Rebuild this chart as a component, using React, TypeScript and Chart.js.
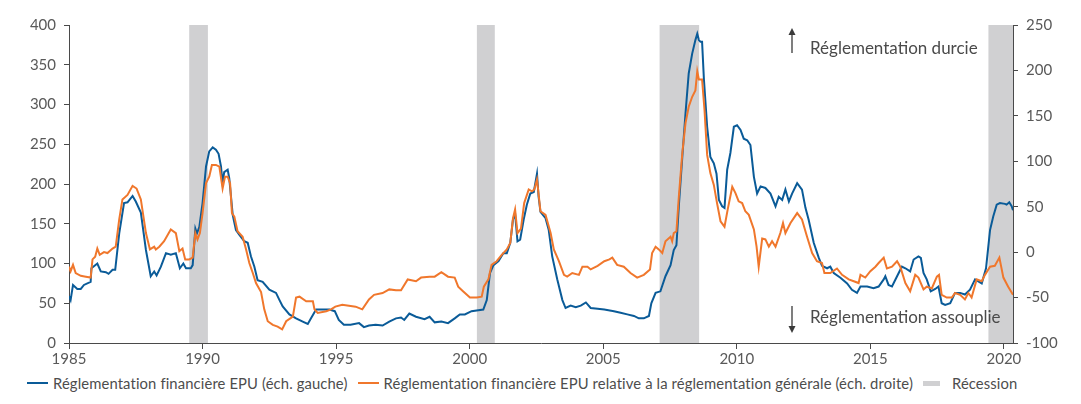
import React, { useEffect, useRef } from "react";
import { Chart, registerables } from "chart.js";
Chart.register(...registerables);

// ---- Data ----
const xTickYears = [1985, 1990, 1995, 2000, 2005, 2010, 2015, 2020];
const leftTicks = [0, 400, 50];
const rightTicks = [-100, 250, 50];

const recessionStarts = [1989.5, 2000.27, 2007.11, 2019.42];
const recessionEnds = [1990.2, 2000.94, 2008.59, 2020.34];

const blueYears = [
  1985.0, 1985.06, 1985.15, 1985.31, 1985.44, 1985.56, 1985.81, 1985.84, 1986.06, 1986.19,
  1986.38, 1986.48, 1986.63, 1986.73, 1986.88, 1987.06, 1987.19, 1987.38, 1987.5, 1987.69,
  1987.88, 1988.06, 1988.19, 1988.28, 1988.44, 1988.63, 1988.81, 1989.0, 1989.15, 1989.28,
  1989.38, 1989.56, 1989.63, 1989.73, 1989.79, 1989.88, 1990.0, 1990.13, 1990.25, 1990.38,
  1990.5, 1990.6, 1990.69, 1990.75, 1990.81, 1990.94, 1991.0, 1991.13, 1991.25, 1991.38,
  1991.56, 1991.69, 1991.81, 1991.94, 1992.06, 1992.25, 1992.5, 1992.75, 1992.88, 1993.0,
  1993.25, 1993.5, 1993.75, 1993.94, 1994.06, 1994.25, 1994.5, 1994.75, 1994.95, 1995.1,
  1995.29, 1995.54, 1995.86, 1996.04, 1996.23, 1996.48, 1996.74, 1996.99, 1997.24, 1997.43,
  1997.55, 1997.74, 1997.99, 1998.31, 1998.5, 1998.69, 1998.94, 1999.19, 1999.44, 1999.63,
  1999.82, 2000.07, 2000.26, 2000.51, 2000.64, 2000.76, 2000.89, 2001.08, 2001.26, 2001.39,
  2001.52, 2001.62, 2001.7, 2001.79, 2001.89, 2002.02, 2002.14, 2002.27, 2002.4, 2002.52,
  2002.58, 2002.65, 2002.84, 2002.96, 2003.09, 2003.28, 2003.47, 2003.59, 2003.78, 2003.97,
  2004.16, 2004.35, 2004.53, 2004.79, 2005.04, 2005.4, 2005.65, 2005.9, 2006.15, 2006.33,
  2006.52, 2006.71, 2006.8, 2006.96, 2007.14, 2007.33, 2007.52, 2007.64, 2007.74, 2007.83,
  2007.96, 2008.08, 2008.2, 2008.33, 2008.45, 2008.52, 2008.58, 2008.64, 2008.7, 2008.77,
  2008.89, 2009.01, 2009.14, 2009.24, 2009.33, 2009.45, 2009.54, 2009.64, 2009.76, 2009.89,
  2010.01, 2010.14, 2010.26, 2010.39, 2010.51, 2010.64, 2010.76, 2010.89, 2011.07, 2011.26,
  2011.45, 2011.57, 2011.7, 2011.82, 2011.95, 2012.07, 2012.26, 2012.44, 2012.57, 2012.69,
  2012.88, 2013.07, 2013.19, 2013.38, 2013.5, 2013.63, 2013.88, 2014.13, 2014.31, 2014.5,
  2014.63, 2014.88, 2015.12, 2015.31, 2015.5, 2015.56, 2015.68, 2015.81, 2016.0, 2016.18,
  2016.31, 2016.49, 2016.62, 2016.8, 2016.89, 2016.99, 2017.11, 2017.26, 2017.43, 2017.55,
  2017.67, 2017.8, 2017.99, 2018.17, 2018.36, 2018.54, 2018.73, 2018.92, 2019.17, 2019.33,
  2019.48, 2019.6, 2019.73, 2019.85, 2020.04, 2020.1, 2020.2, 2020.29, 2020.34,
];
const blueValues = [
  59, 54, 73, 68, 68, 73, 77, 94, 100, 90,
  89, 87, 92, 92, 138, 176, 177, 185, 178, 164,
  117, 84, 90, 85, 96, 113, 111, 113, 94, 100,
  94, 94, 98, 144, 138, 146, 176, 222, 241, 246,
  243, 238, 222, 201, 215, 218, 207, 161, 142, 136,
  128, 126, 109, 96, 79, 77, 67, 63, 54, 46,
  36, 31, 27, 24, 31, 42, 42, 42, 40, 29,
  23, 23, 25, 20, 22, 23, 22, 27, 31, 32,
  29, 37, 33, 30, 33, 26, 27, 25, 31, 36,
  36, 40, 41, 42, 54, 88, 98, 103, 113, 113,
  126, 155, 163, 128, 130, 155, 174, 188, 190, 213,
  184, 165, 157, 142, 109, 80, 54, 44, 47, 45,
  47, 51, 44, 43, 42, 40, 38, 36, 34, 31,
  31, 34, 50, 63, 65, 84, 98, 117, 123, 172,
  234, 289, 339, 364, 381, 389, 381, 379, 379, 331,
  272, 234, 226, 213, 180, 172, 170, 218, 239, 272,
  274, 268, 257, 255, 249, 209, 188, 197, 195, 188,
  172, 184, 180, 193, 178, 188, 201, 193, 170, 155,
  126, 107, 97, 94, 96, 88, 82, 75, 67, 63,
  71, 71, 69, 71, 80, 84, 73, 71, 84, 96,
  94, 90, 105, 109, 107, 88, 80, 65, 68, 71,
  50, 48, 50, 63, 63, 61, 67, 80, 75, 94,
  142, 159, 174, 176, 175, 174, 177, 172, 167,
];

const orangeYears = [
  1985.0, 1985.06, 1985.15, 1985.25, 1985.44, 1985.63, 1985.81, 1985.88, 1985.98, 1986.06,
  1986.15, 1986.31, 1986.44, 1986.63, 1986.75, 1986.88, 1987.0, 1987.19, 1987.38, 1987.53,
  1987.69, 1987.88, 1988.03, 1988.19, 1988.25, 1988.38, 1988.56, 1988.81, 1989.0, 1989.13,
  1989.25, 1989.35, 1989.5, 1989.63, 1989.73, 1989.81, 1989.9, 1990.0, 1990.13, 1990.25,
  1990.35, 1990.5, 1990.63, 1990.75, 1990.84, 1990.94, 1991.03, 1991.1, 1991.19, 1991.31,
  1991.5, 1991.63, 1991.75, 1991.88, 1992.0, 1992.19, 1992.31, 1992.44, 1992.63, 1992.81,
  1992.98, 1993.13, 1993.38, 1993.5, 1993.63, 1993.88, 1994.13, 1994.19, 1994.31, 1994.63,
  1994.81, 1994.97, 1995.23, 1995.48, 1995.73, 1995.98, 1996.23, 1996.42, 1996.74, 1996.99,
  1997.24, 1997.43, 1997.68, 1997.99, 1998.18, 1998.5, 1998.69, 1998.94, 1999.19, 1999.44,
  1999.57, 1999.75, 2000.01, 2000.26, 2000.45, 2000.53, 2000.7, 2000.82, 2001.01, 2001.2,
  2001.39, 2001.52, 2001.62, 2001.7, 2001.79, 2001.92, 2002.04, 2002.21, 2002.33, 2002.42,
  2002.52, 2002.65, 2002.84, 2003.03, 2003.15, 2003.34, 2003.53, 2003.65, 2003.84, 2004.09,
  2004.22, 2004.41, 2004.53, 2004.79, 2005.04, 2005.23, 2005.34, 2005.52, 2005.77, 2006.02,
  2006.27, 2006.52, 2006.75, 2006.83, 2006.96, 2007.08, 2007.21, 2007.33, 2007.52, 2007.58,
  2007.64, 2007.74, 2007.83, 2007.96, 2008.08, 2008.2, 2008.33, 2008.45, 2008.52, 2008.58,
  2008.7, 2008.79, 2008.89, 2009.01, 2009.14, 2009.26, 2009.39, 2009.54, 2009.66, 2009.83,
  2009.95, 2010.07, 2010.2, 2010.32, 2010.45, 2010.64, 2010.74, 2010.82, 2010.95, 2011.07,
  2011.2, 2011.32, 2011.45, 2011.63, 2011.73, 2011.82, 2012.01, 2012.26, 2012.44, 2012.63,
  2012.82, 2013.0, 2013.19, 2013.28, 2013.5, 2013.75, 2013.94, 2014.19, 2014.38, 2014.56,
  2014.63, 2014.81, 2015.0, 2015.19, 2015.31, 2015.5, 2015.62, 2015.81, 2016.0, 2016.12,
  2016.31, 2016.49, 2016.68, 2016.8, 2016.99, 2017.11, 2017.3, 2017.49, 2017.57, 2017.67,
  2017.86, 2018.05, 2018.17, 2018.36, 2018.54, 2018.67, 2018.79, 2018.98, 2019.17, 2019.29,
  2019.48, 2019.66, 2019.83, 2019.98, 2020.16, 2020.34,
];
const orangeValues = [
  -16, -21, -14, -23, -26, -27, -28, -8, -5, 4,
  -3, 0, -1, 4, 6, 36, 58, 63, 73, 70,
  58, 21, 3, 6, 3, 6, 12, 25, 21, 1,
  4, -8, -8, -6, 21, 14, 21, 43, 76, 83,
  96, 96, 94, 70, 83, 83, 76, 43, 39, 23,
  17, 3, -12, -23, -34, -44, -63, -76, -80, -82,
  -85, -76, -71, -50, -49, -54, -54, -63, -67, -65,
  -63, -60, -58, -59, -60, -63, -52, -47, -45, -41,
  -42, -42, -30, -32, -28, -27, -27, -22, -27, -28,
  -38, -43, -50, -50, -49, -38, -30, -14, -10, -3,
  3, 10, 37, 47, 21, 26, 54, 69, 67, 69,
  80, 45, 41, 21, 3, -10, -25, -27, -23, -25,
  -16, -16, -19, -15, -10, -8, -6, -14, -16, -23,
  -28, -25, -19, -1, 6, 3, -1, 12, 17, 12,
  21, 23, 61, 109, 142, 160, 171, 178, 199, 190,
  190, 157, 107, 87, 74, 54, 34, 28, 47, 72,
  65, 56, 54, 45, 41, 25, 6, -16, 15, 14,
  6, 12, 6, 21, 32, 21, 32, 43, 36, 17,
  -1, -10, -12, -23, -23, -18, -25, -30, -32, -34,
  -25, -28, -21, -16, -12, -6, -18, -16, -10, -16,
  -34, -43, -25, -28, -41, -38, -40, -27, -25, -47,
  -50, -50, -45, -47, -52, -45, -50, -30, -32, -25,
  -16, -15, -6, -28, -38, -47,
];

const BLUE = "#0a5b98";
const ORANGE = "#f0772c";
const GREY = "#d0d0d2";
const AXIS = "#4a4a4a";
const TEXT = "#595959";
const FONT = "Lato";

const legendItems = [
  { label: "Réglementation financière EPU (éch. gauche)", color: BLUE, kind: "line" },
  { label: "Réglementation financière EPU relative à la réglementation générale (éch. droite)", color: ORANGE, kind: "line" },
  { label: "Récession", color: GREY, kind: "box" },
];

export default function App() {
  const ref = useRef<HTMLCanvasElement>(null);

  useEffect(() => {
    document.body.style.margin = "0";
    const canvas = ref.current;
    if (!canvas) return;

    const recessionPlugin = {
      id: "recessions",
      beforeDraw(chart: any) {
        const { ctx, chartArea, scales } = chart;
        const x = scales.x;
        ctx.save();
        ctx.fillStyle = GREY;
        recessionStarts.forEach((s, i) => {
          const x0 = x.getPixelForValue(s);
          const x1 = Math.min(x.getPixelForValue(recessionEnds[i]), chartArea.right);
          ctx.fillRect(x0, chartArea.top, x1 - x0, chartArea.bottom - chartArea.top);
        });
        ctx.restore();
      },
    };

    const annotationPlugin = {
      id: "annotations",
      afterDraw(chart: any) {
        const { ctx, chartArea } = chart;
        const ax = chartArea.left + 723;
        const tx = chartArea.left + 741;
        ctx.save();
        ctx.strokeStyle = "#3a3a3a";
        ctx.fillStyle = "#3a3a3a";
        ctx.lineWidth = 1.3;
        // up arrow
        const upTop = chartArea.top + 3;
        const upBottom = chartArea.top + 28;
        ctx.beginPath();
        ctx.moveTo(ax, upBottom);
        ctx.lineTo(ax, upTop + 5);
        ctx.stroke();
        ctx.beginPath();
        ctx.moveTo(ax, upTop);
        ctx.lineTo(ax - 3.5, upTop + 7);
        ctx.lineTo(ax + 3.5, upTop + 7);
        ctx.closePath();
        ctx.fill();
        // down arrow
        const dnTop = chartArea.bottom - 37;
        const dnBottom = chartArea.bottom - 10;
        ctx.beginPath();
        ctx.moveTo(ax, dnTop);
        ctx.lineTo(ax, dnBottom - 5);
        ctx.stroke();
        ctx.beginPath();
        ctx.moveTo(ax, dnBottom);
        ctx.lineTo(ax - 3.5, dnBottom - 7);
        ctx.lineTo(ax + 3.5, dnBottom - 7);
        ctx.closePath();
        ctx.fill();
        // texts
        ctx.fillStyle = "#4a4a4a";
        ctx.font = `17px ${FONT}`;
        ctx.textAlign = "left";
        ctx.textBaseline = "alphabetic";
        ctx.fillText("Réglementation durcie", tx, chartArea.top + 29);
        ctx.fillText("Réglementation assouplie", tx, chartArea.bottom - 20);
        ctx.restore();
      },
    };

    const tickFont = { family: FONT, size: 15 };

    const chart = new Chart(canvas, {
      type: "line",
      data: {
        datasets: [
          {
            label: legendItems[0].label,
            data: blueYears.map((x, i) => ({ x, y: blueValues[i] })),
            borderColor: BLUE,
            borderWidth: 2,
            pointRadius: 0,
            yAxisID: "y",
            order: 2,
            tension: 0,
          },
          {
            label: legendItems[1].label,
            data: orangeYears.map((x, i) => ({ x, y: orangeValues[i] })),
            borderColor: ORANGE,
            borderWidth: 2,
            pointRadius: 0,
            yAxisID: "y1",
            order: 1,
            tension: 0,
          },
        ],
      },
      options: {
        animation: false,
        responsive: true,
        maintainAspectRatio: false,
        layout: { padding: { top: 25, left: 0, right: 0, bottom: 0 } },
        plugins: { legend: { display: false }, tooltip: { enabled: false } },
        scales: {
          x: {
            type: "linear",
            min: 1985,
            max: 2020.34,
            afterBuildTicks: (scale: any) => {
              scale.ticks = xTickYears.map((v) => ({ value: v }));
            },
            afterFit: (scale: any) => {
              scale.height = 22;
            },
            grid: { drawOnChartArea: false, drawTicks: true, tickLength: 6, color: AXIS },
            border: { display: true, color: AXIS, width: 1 },
            ticks: {
              callback: (v: any) => String(v),
              font: tickFont,
              color: TEXT,
              padding: 1,
              maxRotation: 0,
              autoSkip: false,
            },
          },
          y: {
            position: "left",
            min: leftTicks[0],
            max: leftTicks[1],
            afterFit: (scale: any) => {
              scale.width = 69;
            },
            grid: { drawOnChartArea: false, drawTicks: true, tickLength: 5, color: AXIS },
            border: { display: true, color: AXIS, width: 1 },
            ticks: { stepSize: leftTicks[2], font: tickFont, color: TEXT, padding: 8 },
          },
          y1: {
            position: "right",
            min: rightTicks[0],
            max: rightTicks[1],
            afterFit: (scale: any) => {
              scale.width = 68;
            },
            grid: { drawOnChartArea: false, drawTicks: true, tickLength: 5, color: AXIS },
            border: { display: true, color: AXIS, width: 1 },
            ticks: { stepSize: rightTicks[2], font: tickFont, color: TEXT, padding: 8 },
          },
        },
      },
      plugins: [recessionPlugin, annotationPlugin],
    } as any);

    return () => chart.destroy();
  }, []);

  return (
    <div style={{ position: "relative", width: 1081, height: 404, fontFamily: FONT, background: "#fff" }}>
      <div style={{ position: "absolute", left: 0, top: 0, width: 1081, height: 365 }}>
        <canvas ref={ref} />
      </div>
      <div
        style={{
          position: "absolute",
          left: 27,
          top: 374,
          display: "flex",
          alignItems: "center",
          whiteSpace: "nowrap",
          fontSize: 14.8,
          letterSpacing: "0.12px",
          color: "#4d4d4d",
          lineHeight: "18px",
        }}
      >
        {legendItems.map((item, i) => (
          <div key={i} style={{ display: "flex", alignItems: "center", marginRight: 10 }}>
            {item.kind === "line" ? (
              <span style={{ display: "inline-block", width: 21, height: 2, background: item.color, marginRight: 5 }} />
            ) : (
              <span style={{ display: "inline-block", width: 17, height: 5, background: item.color, marginRight: 12 }} />
            )}
            <span>{item.label}</span>
          </div>
        ))}
      </div>
    </div>
  );
}
